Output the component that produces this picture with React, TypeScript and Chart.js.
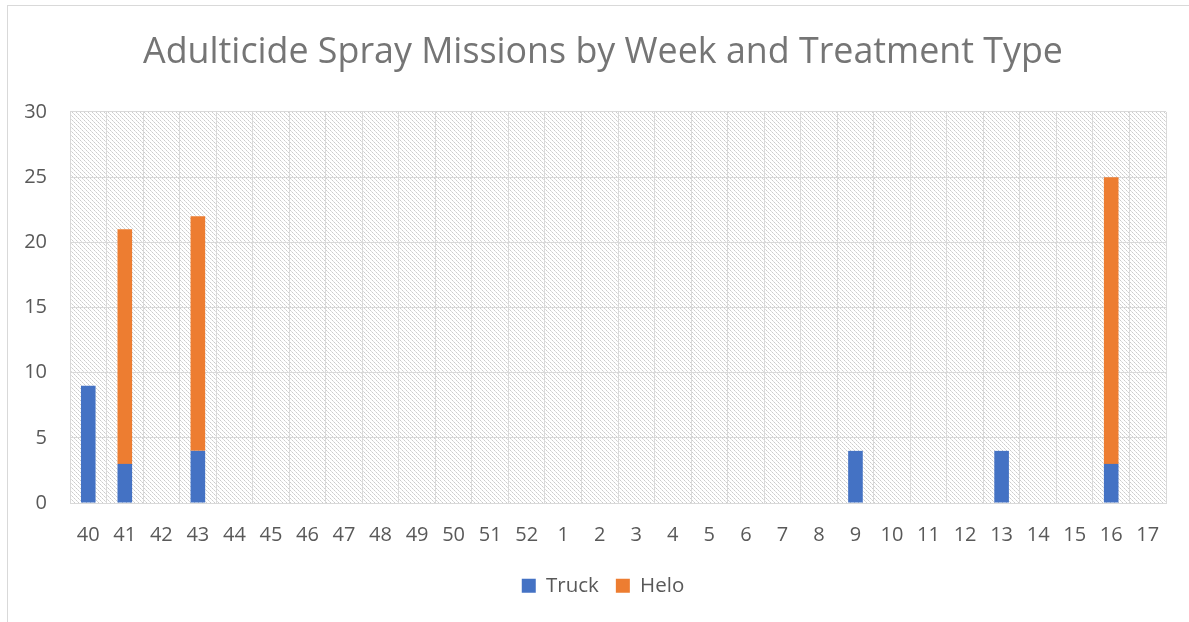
import React, { useEffect, useRef } from "react";
import { Chart, registerables } from "chart.js";
Chart.register(...registerables);

const weeks = ["40","41","42","43","44","45","46","47","48","49","50","51","52","1","2","3","4","5","6","7","8","9","10","11","12","13","14","15","16","17"];
const truck = [9,3,null,4,null,null,null,null,null,null,null,null,null,null,null,null,null,null,null,null,null,4,null,null,null,4,null,null,3,null];
const helo = [null,18,null,18,null,null,null,null,null,null,null,null,null,null,null,null,null,null,null,null,null,null,null,null,null,null,null,null,22,null];
const yTicks = [0,5,10,15,20,25,30];

const FONT = "'Open Sans', Lato, sans-serif";

function makePattern(ctx: CanvasRenderingContext2D) {
  const c = document.createElement("canvas");
  c.width = 4; c.height = 4;
  const p = c.getContext("2d")!;
  p.fillStyle = "#ffffff";
  p.fillRect(0, 0, 4, 4);
  for (let i = 0; i < 4; i++) {
    p.fillStyle = i % 2 === 0 ? "#cccccc" : "#dedede";
    p.fillRect(i, i, 1, 1);
  }
  return ctx.createPattern(c, "repeat");
}

export default function App() {
  const ref = useRef<HTMLCanvasElement>(null);
  useEffect(() => {
    const canvas = ref.current!;
    const bgPlugin = {
      id: "hatch",
      afterLayout(chart: any) {
        if (chart.titleBlock) chart.titleBlock.left += 40;
        if (chart.legend) chart.legend.left += 40;
      },
      beforeDraw(chart: any) {
        const { ctx, chartArea } = chart;
        const pat = makePattern(ctx);
        ctx.save();
        ctx.fillStyle = pat as any;
        ctx.fillRect(chartArea.left, chartArea.top, chartArea.right - chartArea.left, chartArea.bottom - chartArea.top);
        ctx.restore();
      },
    };
    const chart = new Chart(canvas, {
      type: "bar",
      data: {
        labels: weeks,
        datasets: [
          { label: "Truck", data: truck as any, backgroundColor: "#4472C4", barPercentage: 1, categoryPercentage: 0.4 },
          { label: "Helo", data: helo as any, backgroundColor: "#ED7D31", barPercentage: 1, categoryPercentage: 0.4 },
        ],
      },
      options: {
        animation: false,
        responsive: false,
        maintainAspectRatio: false,
        layout: { padding: { top: 5, left: 0, right: 23, bottom: 16 } },
        plugins: {
          title: {
            display: true,
            text: "Adulticide Spray Missions by Week and Treatment Type",
            color: "#757575",
            font: { family: FONT, size: 35.8, weight: "normal" as any },
            padding: { top: 26, bottom: 38 },
          },
          legend: {
            display: true,
            position: "bottom",
            labels: {
              color: "#595959",
              font: { family: FONT, size: 20.5 },
              boxWidth: 14,
              boxHeight: 14,
              padding: 17,
            },
          },
          tooltip: { enabled: false },
        },
        scales: {
          x: {
            stacked: true,
            grid: { color: "#d9d9d9", lineWidth: 1, drawTicks: false, offset: true },
            border: { color: "#d9d9d9" },
            ticks: { color: "#595959", font: { family: FONT, size: 20 }, padding: 20.5, maxRotation: 0, autoSkip: false },
            afterFit(s: any) { s.height = 55.5; },
          },
          y: {
            stacked: true,
            min: 0,
            max: 30,
            afterBuildTicks(s: any) { s.ticks = yTicks.map((v) => ({ value: v })); },
            grid: { color: "#d9d9d9", lineWidth: 1, drawTicks: false },
            border: { display: false },
            ticks: { color: "#595959", font: { family: FONT, size: 20 }, padding: 23 },
            afterFit(s: any) { s.width = 70; },
          },
        },
      },
      plugins: [bgPlugin],
    });
    return () => chart.destroy();
  }, []);
  return (
    <div style={{ position: "fixed", left: 0, top: 0, width: 1189, height: 622, background: "#fff" }}>
      <canvas ref={ref} width={1189} height={622} style={{ position: "absolute", left: 0, top: 0, width: 1189, height: 622 }} />
      <div style={{ position: "absolute", left: 7, top: 5, width: 1189, height: 622, borderLeft: "1px solid #d9d9d9", borderTop: "1px solid #d9d9d9", pointerEvents: "none" }} />
    </div>
  );
}
